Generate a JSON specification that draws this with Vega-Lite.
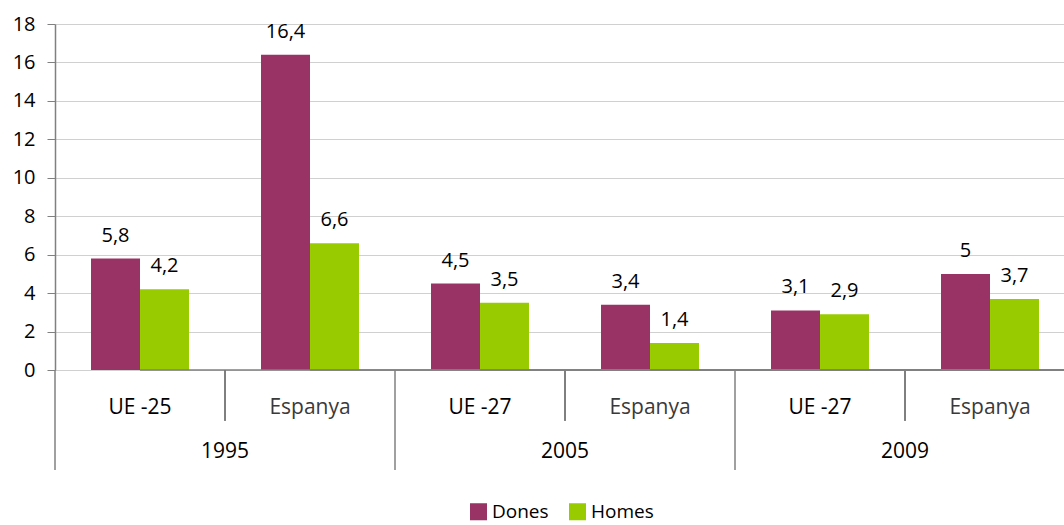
{
  "$schema": "https://vega.github.io/schema/vega-lite/v6.json",
  "autosize": "none",
  "width": 1009,
  "height": 346,
  "padding": {"left": 55, "top": 24, "right": 0, "bottom": 155},
  "background": "white",
  "config": {
    "font": "Open Sans",
    "view": {"stroke": null}
  },
  "resolve": {"axis": {"y": "independent"}},
  "datasets": {
    "bars": [
      {"year": "1995", "pais": "UE -25", "key": "1995|UE -25", "serie": "Dones", "value": 5.8},
      {"year": "1995", "pais": "UE -25", "key": "1995|UE -25", "serie": "Homes", "value": 4.2},
      {"year": "1995", "pais": "Espanya", "key": "1995|Espanya", "serie": "Dones", "value": 16.4},
      {"year": "1995", "pais": "Espanya", "key": "1995|Espanya", "serie": "Homes", "value": 6.6},
      {"year": "2005", "pais": "UE -27", "key": "2005|UE -27", "serie": "Dones", "value": 4.5},
      {"year": "2005", "pais": "UE -27", "key": "2005|UE -27", "serie": "Homes", "value": 3.5},
      {"year": "2005", "pais": "Espanya", "key": "2005|Espanya", "serie": "Dones", "value": 3.4},
      {"year": "2005", "pais": "Espanya", "key": "2005|Espanya", "serie": "Homes", "value": 1.4},
      {"year": "2009", "pais": "UE -27", "key": "2009|UE -27", "serie": "Dones", "value": 3.1},
      {"year": "2009", "pais": "UE -27", "key": "2009|UE -27", "serie": "Homes", "value": 2.9},
      {"year": "2009", "pais": "Espanya", "key": "2009|Espanya", "serie": "Dones", "value": 5},
      {"year": "2009", "pais": "Espanya", "key": "2009|Espanya", "serie": "Homes", "value": 3.7}
    ],
    "cats": [
      {"year": "1995", "pais": "UE -25", "key": "1995|UE -25", "first": true},
      {"year": "1995", "pais": "Espanya", "key": "1995|Espanya", "first": false},
      {"year": "2005", "pais": "UE -27", "key": "2005|UE -27", "first": true},
      {"year": "2005", "pais": "Espanya", "key": "2005|Espanya", "first": false},
      {"year": "2009", "pais": "UE -27", "key": "2009|UE -27", "first": true},
      {"year": "2009", "pais": "Espanya", "key": "2009|Espanya", "first": false}
    ]
  },
  "encoding": {
    "x": {
      "field": "key",
      "type": "nominal",
      "scale": {
        "domain": ["1995|UE -25", "1995|Espanya", "2005|UE -27", "2005|Espanya", "2009|UE -27", "2009|Espanya"],
        "range": [0, 1020],
        "paddingInner": 0,
        "paddingOuter": 0
      },
      "axis": null
    }
  },
  "layer": [
    {
      "data": {"name": "bars"},
      "mark": {"type": "bar"},
      "encoding": {
        "xOffset": {
          "field": "serie",
          "type": "nominal",
          "scale": {"domain": ["Dones", "Homes"], "paddingInner": 0, "paddingOuter": 0.735}
        },
        "y": {
          "field": "value",
          "type": "quantitative",
          "scale": {"domain": [0, 18], "nice": false},
          "axis": {
            "title": null,
            "values": [0, 2, 4, 6, 8, 10, 12, 14, 16, 18],
            "labelOverlap": false,
            "labelFlush": false,
            "labelFont": "Open Sans",
            "labelFontSize": 20,
            "labelColor": "#000",
            "grid": true,
            "gridColor": "#d0d0d0",
            "gridWidth": 1,
            "domainColor": "#808080",
            "domainWidth": 1.5,
            "tickColor": "#808080",
            "tickSize": 8,
            "labelPadding": 12
          }
        },
        "color": {
          "field": "serie",
          "type": "nominal",
          "scale": {"domain": ["Dones", "Homes"], "range": ["#993366", "#99cc00"]},
          "legend": {
            "title": null,
            "orient": "none",
            "direction": "horizontal",
            "legendX": 414,
            "legendY": 478,
            "symbolType": "square",
            "symbolSize": 290,
            "symbolStrokeWidth": 0,
            "symbolOpacity": 1,
            "labelFontSize": 19,
            "labelFont": "Open Sans",
            "labelColor": "#000",
            "labelOffset": 4,
            "columnPadding": 19
          }
        }
      }
    },
    {
      "data": {"name": "bars"},
      "transform": [{"calculate": "replace(toString(datum.value), '.', ',')", "as": "lbl"}],
      "mark": {"type": "text", "fontSize": 20, "font": "Open Sans", "color": "#000", "baseline": "alphabetic", "dy": -17},
      "encoding": {
        "xOffset": {"field": "serie", "type": "nominal"},
        "y": {"field": "value", "type": "quantitative", "axis": null},
        "text": {"field": "lbl"}
      }
    },
    {
      "data": {"name": "cats"},
      "transform": [{"filter": "datum.first"}],
      "mark": {"type": "rule", "color": "#808080", "strokeWidth": 1.5},
      "encoding": {
        "x": {"field": "key", "type": "nominal", "bandPosition": 0},
        "y": {"datum": 0, "axis": null},
        "y2": {"datum": -5.2}
      }
    },
    {
      "data": {"name": "cats"},
      "transform": [{"filter": "!datum.first"}],
      "mark": {"type": "rule", "color": "#000", "strokeWidth": 1},
      "encoding": {
        "x": {"field": "key", "type": "nominal", "bandPosition": 0},
        "y": {"datum": 0, "axis": null},
        "y2": {"datum": -2.65}
      }
    },
    {
      "data": {"name": "cats"},
      "mark": {"type": "rule", "color": "#808080", "strokeWidth": 1.5},
      "encoding": {
        "y": {"datum": 0, "axis": null},
        "x2": {"datum": "2009|Espanya", "bandPosition": 1}
      }
    },
    {
      "data": {"name": "cats"},
      "mark": {"type": "text", "fontSize": 21, "font": "Open Sans", "baseline": "middle"},
      "encoding": {
        "x": {"field": "key", "type": "nominal", "bandPosition": 0.5},
        "y": {"datum": -1.98, "axis": null},
        "text": {"field": "pais"},
        "color": {"condition": {"test": "datum.pais == 'Espanya'", "value": "#3a3a3a"}, "value": "#000"}
      }
    },
    {
      "data": {"name": "cats"},
      "transform": [{"filter": "!datum.first"}],
      "mark": {"type": "text", "fontSize": 21, "font": "Open Sans", "baseline": "middle", "color": "#000"},
      "encoding": {
        "x": {"field": "key", "type": "nominal", "bandPosition": 0},
        "y": {"datum": -4.27, "axis": null},
        "text": {"field": "year"}
      }
    }
  ]
}
